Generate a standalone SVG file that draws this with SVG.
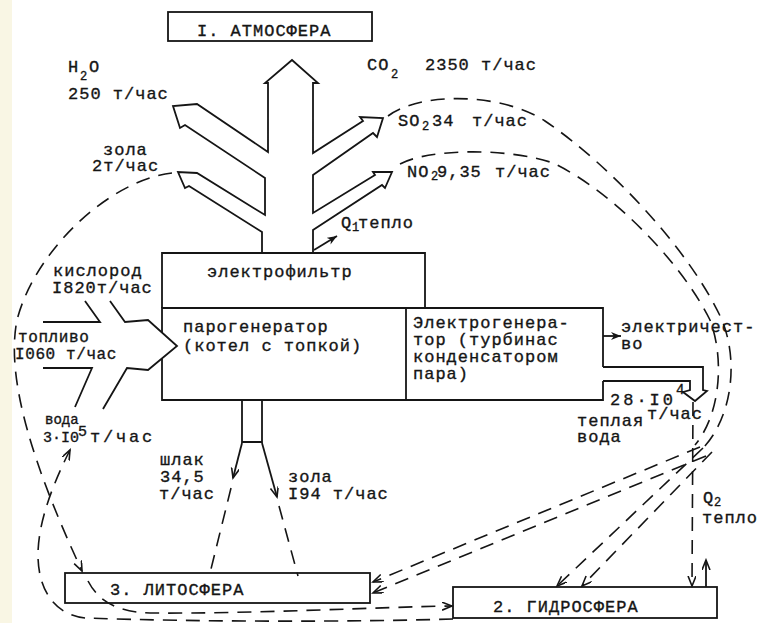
<svg xmlns="http://www.w3.org/2000/svg" width="761" height="623" viewBox="0 0 761 623">
<style>
.t{font-family:"Liberation Mono","DejaVu Sans Mono",monospace;font-size:17px;letter-spacing:1px;fill:#151515;stroke:#151515;stroke-width:0.35}
.s{font-size:12px;letter-spacing:0}
.ln{fill:none;stroke:#151515;stroke-width:1.8;stroke-linejoin:miter}
.sh{fill:#fff;stroke:#151515;stroke-width:1.8;stroke-linejoin:miter}
.d{fill:none;stroke:#151515;stroke-width:1.6;stroke-dasharray:14 9}
</style>
<defs>
<marker id="va" markerUnits="userSpaceOnUse" markerWidth="12" markerHeight="10" refX="10" refY="4" orient="auto">
<path d="M0,0 L10,4 L0,8" fill="none" stroke="#151515" stroke-width="1.6" stroke-dasharray="none"/>
</marker>
<marker id="fa" markerUnits="userSpaceOnUse" markerWidth="12" markerHeight="10" refX="10" refY="4" orient="auto">
<path d="M0,0 L10,4 L0,8 L3,4 Z" fill="#151515" stroke="none"/>
</marker>
</defs>
<rect width="761" height="623" fill="#fff"/>
<rect width="12" height="623" fill="#f9f6e4"/>

<g id="atmosphere">
<rect class="sh" x="168" y="12" width="204" height="29"/>
<text class="t" x="197" y="36">I. АТМОСФЕРА</text>
</g>

<g id="emissions">
<path class="sh" d="M262,253 L262,232 L189,186 L185,188 L178,172 L197,173 L265,215 L265,178 L185,125 L180,128 L173,106 L197,104 L268,152 L268,83 L265,83 L292,60 L318,83 L313,83 L313,153 L363,121 L360,117 L383,118 L377,137 L373,133 L313,175 L313,213 L375,175 L373,172 L392,172 L385,188 L382,185 L313,230 L313,253"/>
<text class="t" x="68" y="72">H<tspan class="s" x="80" y="80">2</tspan><tspan x="89" y="72">O</tspan></text>
<text class="t" x="68" y="99">250 т/час</text>
<text class="t" x="367" y="70">CO<tspan class="s" x="391" y="78">2</tspan><tspan x="425" y="70">2350 т/час</tspan></text>
<text class="t" x="398" y="126">SO<tspan class="s" x="422" y="130">2</tspan><tspan x="432" y="126">34</tspan><tspan x="472" y="126">т/час</tspan></text>
<text class="t" x="407" y="177">NO<tspan class="s" x="431" y="180">2</tspan><tspan x="437" y="177">9,35</tspan><tspan x="495" y="177">т/час</tspan></text>
<text class="t" x="103" y="155">зола</text>
<text class="t" x="92" y="171">2т/час</text>
<path class="ln" d="M314,250 L337,236" marker-end="url(#fa)"/>
<text class="t" x="341" y="228">Q<tspan class="s" x="352" y="231">1</tspan><tspan x="358" y="228">тепло</tspan></text>
</g>

<g id="electrofilter">
<path class="ln" d="M162,308 L162,253 L425,253 L425,308"/>
<text class="t" x="207" y="277">электрофильтр</text>
</g>

<g id="steam-generator">
<path class="ln" d="M603,367 L603,308 L162,308 L162,400 L603,400 L603,381"/>
<text class="t" x="183" y="332">парогенератор</text>
<text class="t" x="183" y="351">(котел с топкой)</text>
</g>

<g id="electro-generator">
<path class="ln" d="M406,308 L406,400"/>
<text class="t" x="413" y="328">Электрогенера-</text>
<text class="t" x="413" y="345">тор (турбинас</text>
<text class="t" x="413" y="362">конденсатором</text>
<text class="t" x="413" y="379">пара)</text>
<path class="ln" d="M603,336 L621,336" marker-end="url(#fa)"/>
<text class="t" x="621" y="332">электричест-</text>
<text class="t" x="621" y="349">во</text>
</g>

<g id="warm-water">
<path class="sh" d="M603,367 L703,367 L703,390 L707,391 L695,401 L683,392 L690,390 L690,381 L603,381"/>
<text class="t" x="610" y="405" textLength="64">28·I0</text>
<text class="t s" x="676" y="394" style="font-size:14px">4</text>
<text class="t" x="577" y="426">теплая</text>
<text class="t" x="647" y="419">т/час</text>
<text class="t" x="577" y="442">вода</text>
</g>

<g id="inputs">
<path d="M85,301 L100,322 L43,322 L43,368 L92,368 L75,407 L103,409 L127,368 L148,370 L177,346 L148,320 L125,322 L110,301 Z" fill="#fff"/>
<path class="ln" d="M85,301 L100,322 L43,322 M43,368 L92,368 L75,407 M103,409 L127,368 L148,370 L177,346 L148,320 L125,322 L110,301"/>
<text class="t" x="53" y="276">кислород</text>
<text class="t" x="52" y="293">I820т/час</text>
<text class="t" x="18" y="342" style="font-size:16px;letter-spacing:0.6px">топливо</text>
<text class="t" x="15" y="359" style="font-size:16px;letter-spacing:0.6px">I060 т/час</text>
<text class="t" x="45" y="424" style="font-size:14px;letter-spacing:0">вода</text>
<text class="t" x="78" y="436" style="font-size:15px">5</text>
<text class="t" x="43" y="442" style="font-size:15px;letter-spacing:0">3·I0</text>
<text class="t" x="90" y="442" style="letter-spacing:2.8px">т/час</text>
</g>

<g id="ash-slag">
<path class="ln" d="M242,401 L242,442 L262,442 L262,401"/>
<path class="ln" d="M242,443 L233,478" marker-end="url(#va)"/>
<path class="ln" d="M262,443 L277,497" marker-end="url(#va)"/>
<text class="t" x="160" y="465">шлак</text>
<text class="t" x="160" y="482">34,5</text>
<text class="t" x="159" y="499">т/час</text>
<text class="t" x="288" y="482">зола</text>
<text class="t" x="288" y="499">I94 т/час</text>
</g>

<g id="lithosphere">
<rect class="sh" x="65" y="573" width="305" height="30"/>
<text class="t" x="110" y="595">3. ЛИТОСФЕРА</text>
</g>

<g id="hydrosphere">
<rect class="sh" x="453" y="587" width="264" height="31"/>
<text class="t" x="493" y="612">2. ГИДРОСФЕРА</text>
<text class="t" x="703" y="503">Q<tspan class="s" x="714" y="506">2</tspan></text>
<text class="t" x="702" y="523">тепло</text>
</g>

<g id="connectors">
<path class="d" d="M172,173 C110,180 35,250 17,320 C5,380 35,470 82,571" marker-end="url(#va)"/>
<path class="d" d="M453,619 C350,622 200,622 85,618 C55,615 38,590 38,555 C38,520 55,480 70,450" marker-end="url(#va)"/>
<path class="d" d="M88,581 C98,600 115,612 150,613 C250,614 380,607 452,606" marker-end="url(#va)"/>
<path class="d" d="M388,116 C420,92 500,92 545,121 C610,165 690,250 722,320 C740,365 730,420 703,448"/>
<path class="d" d="M400,164 C430,148 510,148 553,163 C610,190 680,260 710,320 C725,360 720,415 695,445"/>
<path class="d" d="M700,447 L373,582" marker-end="url(#va)"/>
<path class="d" d="M706,456 L373,593" marker-end="url(#va)"/>
<path class="d" d="M703,448 L557,586" marker-end="url(#va)"/>
<path class="d" d="M712,452 L582,586" marker-end="url(#va)"/>
<path class="d" d="M693,402 L692,586" marker-end="url(#va)"/>
<path class="ln" d="M706,587 L706,560" marker-end="url(#va)"/>
<path class="d" d="M231,488 L210,573"/>
<path class="d" d="M279,506 L298,576"/>
</g>
</svg>
